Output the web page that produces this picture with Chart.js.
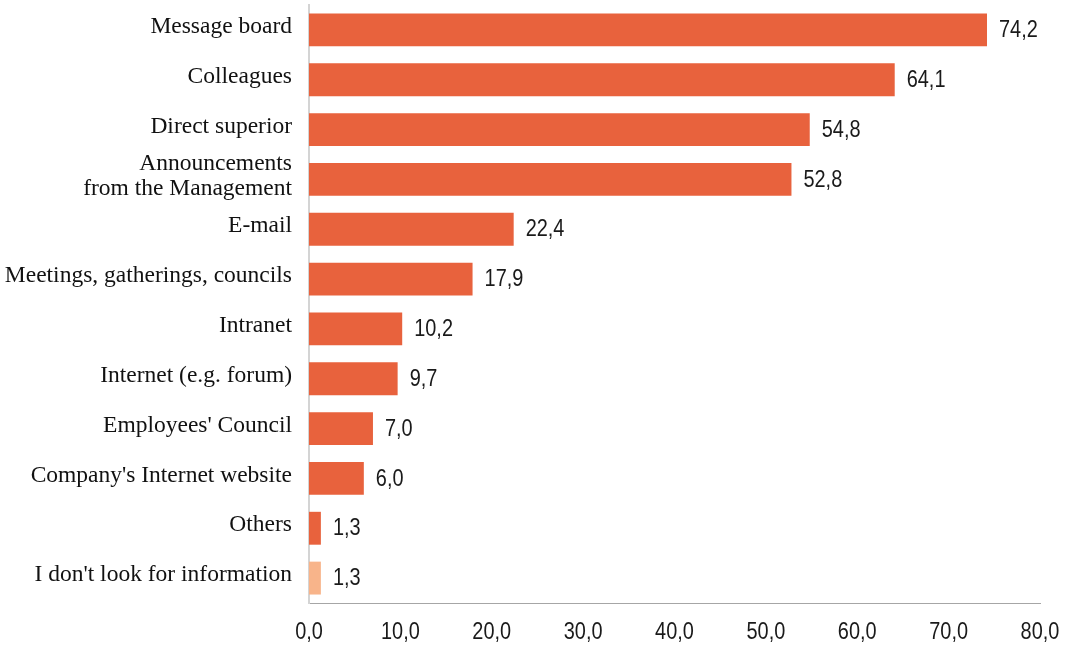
<!DOCTYPE html>
<html>
<head>
<meta charset="utf-8">
<script src="https://cdn.jsdelivr.net/npm/chart.js@4.4.1/dist/chart.umd.min.js"></script>
<style>
  html, body { margin: 0; padding: 0; background: #fff; }
  #wrap { width: 1072px; height: 645px; position: relative; }
</style>
</head>
<body>
<div id="wrap"><canvas id="sourcesChart"></canvas></div>
<script>
// Sources of information in the company (%)
const categories = [
    'Message board',
    'Colleagues',
    'Direct superior',
    ['Announcements', 'from the Management'],
    'E-mail',
    'Meetings, gatherings, councils',
    'Intranet',
    'Internet (e.g. forum)',
    "Employees' Council",
    "Company's Internet website",
    'Others',
    "I don't look for information"
];
const shares = [74.2, 64.1, 54.8, 52.8, 22.4, 17.9, 10.2, 9.7, 7.0, 6.0, 1.3, 1.3];
const xTicks = [0, 10, 20, 30, 40, 50, 60, 70, 80];

const mainColor = '#E8623D';
const lastColor = '#F8B48A';
const numFont = '24px "Liberation Sans", Arial, sans-serif';

function fmt(v) {
    return v.toFixed(1).replace('.', ',');
}

// narrow sans text, like Arial Narrow in the original
function narrowText(ctx, text, x, y, align) {
    ctx.save();
    ctx.translate(x, y);
    ctx.scale(0.83, 1);
    ctx.textAlign = align;
    ctx.fillText(text, 0, 0);
    ctx.restore();
}

// value next to every bar + the x axis numbers
const numberLabels = {
    id: 'numberLabels',
    afterDatasetsDraw(chart) {
        const ctx = chart.ctx;
        const meta = chart.getDatasetMeta(0);
        const xScale = chart.scales.x;
        ctx.save();
        ctx.font = numFont;
        ctx.fillStyle = '#1a1a1a';
        ctx.textBaseline = 'middle';
        meta.data.forEach((bar, i) => {
            narrowText(ctx, fmt(shares[i]), bar.x + 12, bar.y + 0.5, 'left');
        });
        xTicks.forEach(v => {
            narrowText(ctx, fmt(v), xScale.getPixelForValue(v), xScale.top + 29, 'center');
        });
        ctx.restore();
    }
};

const ctx = document.getElementById('sourcesChart');
new Chart(ctx.getContext('2d'), {
    type: 'bar',
    data: {
        labels: categories,
        datasets: [{
            data: shares,
            backgroundColor: shares.map((v, i) => i === shares.length - 1 ? lastColor : mainColor),
            borderWidth: 0,
            categoryPercentage: 1,
            barPercentage: 0.66
        }]
    },
    options: {
        indexAxis: 'y',
        responsive: true,
        maintainAspectRatio: false,
        animation: false,
        layout: { padding: { top: 5, right: 32, left: 0, bottom: 0 } },
        plugins: {
            legend: { display: false },
            tooltip: { enabled: false }
        },
        scales: {
            x: {
                min: 0,
                max: 80,
                afterBuildTicks: (scale) => { scale.ticks = xTicks.map(v => ({ value: v })); },
                afterFit: (scale) => { scale.height = 42; scale.paddingLeft = 0; scale.paddingRight = 0; },
                grid: { display: false, drawTicks: false },
                border: { color: '#a6a6a6', width: 1 },
                ticks: { display: false }
            },
            y: {
                afterFit: (scale) => { scale.width = 309; scale.paddingTop = 0; scale.paddingBottom = 0; },
                grid: { display: false, drawTicks: false },
                border: { color: '#d4d4d4', width: 2 },
                ticks: {
                    autoSkip: false,
                    padding: 17,
                    labelOffset: -3,
                    color: '#111',
                    font: { family: '"Liberation Serif", "Times New Roman", serif', size: 23.5, lineHeight: 1.05 }
                }
            }
        }
    },
    plugins: [numberLabels]
});
</script>
</body>
</html>
